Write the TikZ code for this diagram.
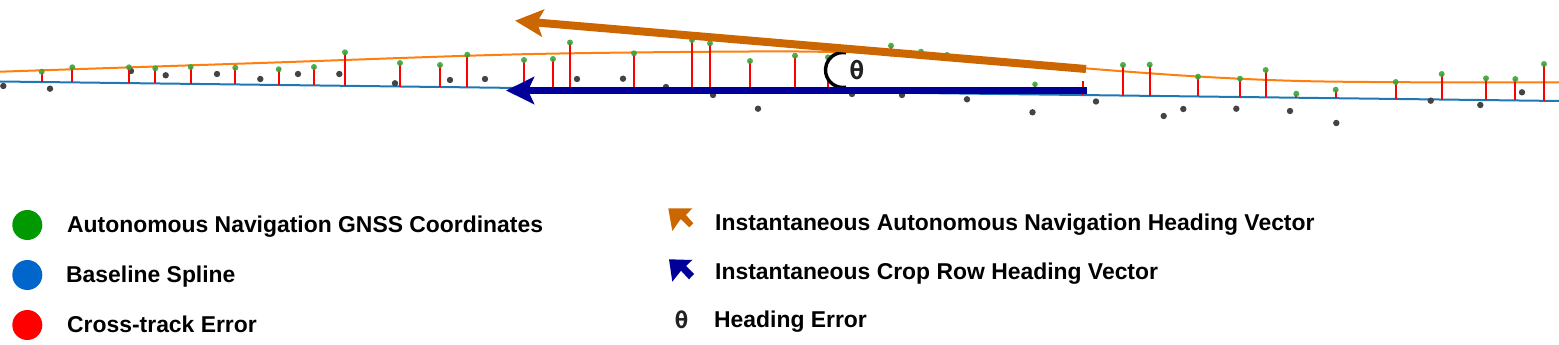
\documentclass[tikz,border=0pt]{standalone}
\usepackage{fontspec}
\setmainfont{Liberation Sans}
\newfontfamily\thetafont{DejaVu Sans Mono}
\usetikzlibrary{arrows.meta}
\definecolor{splorange}{HTML}{FF7F0E}
\definecolor{splblue}{HTML}{1F77B4}
\definecolor{gnssgreen}{HTML}{3BA53B}
\definecolor{ptgray}{HTML}{444444}
\definecolor{headorange}{HTML}{CC6600}
\definecolor{headblue}{HTML}{000099}
\definecolor{leggreen}{HTML}{009900}
\definecolor{legblue}{HTML}{0066CC}
\definecolor{cterred}{HTML}{FF0000}
\definecolor{thetagray}{HTML}{222222}
\begin{document}
\begin{tikzpicture}[x=1pt,y=-1pt,
  baseln/.style={splblue,line width=2},
  gnssln/.style={splorange,line width=2},
  ctel/.style={cterred,line width=2},
  gdot/.style={gnssgreen,opacity=0.9},
  graydot/.style={ptgray},
  headvec/.style={line width=8,-{Stealth[length=28pt,width=27pt,inset=6pt]}},
  anglearc/.style={black,line width=3.4},
  legtext/.style={anchor=base west,inner sep=0pt,font=\fontsize{22.9}{27}\selectfont\bfseries},
  thetatext/.style={inner sep=0pt,text=thetagray,font=\thetafont\bfseries\fontsize{25}{28}\selectfont},
  legdot/.style={circle,inner sep=0pt,minimum size=30pt}
]
\useasboundingbox (0,0) rectangle (1559,345);
% baseline spline
\draw[baseln] (0,81.5) -- (1559,101);
% autonomous navigation spline
\draw[gnssln] plot[smooth,tension=0.55] coordinates {(0,71.7) (260,63) (520,54.3) (750,51.5) (850,52.5) (960,57) (1085,68.3) (1198,76.5) (1300,81) (1420,82.3) (1559,82.3)};
% gray points
\foreach \px/\py in {3.3/86,50/88.7,131/71,165.7/75.3,217/74,260.3/79,298/74,339.3/74,395/83.3,450/80,485/79,577/79,623/78.7,666/87,713/95,758/108.7,852/94,902/95,967/99.3,1032.5/112.3,1096/101.5,1163.7/116,1183.3/109,1236.3/108.7,1290/111,1336.3/123,1430.7/100.7,1480.3/105,1522/92.3}
  \fill[graydot] (\px,\py) circle (3.2);
% cross-track error lines
\foreach \px/\py in {41.7/71.7,72.3/67.3,129/67.3,155.3/68.3,190.7/67,235.3/67.7,278.7/69.3,314/67,345/52.3,400/63,440/65,467.3/54.7,524/60,553/59,570/42.5,634/53.3,692/40,710/43.3,750/61,795/55.7,828/57.3,891/45.7,921/51.7,947/55,1123/65,1149.7/64.7,1198/76.7,1240/78.7,1265.7/70,1296.3/93.7,1335.7/89.7,1395.7/82,1441.7/74,1486/78.3,1515.3/79,1544/64}
  \draw[ctel] (\px,\py) -- (\px,{81.5+0.012508*\px});
\foreach \px in {991}
  \draw[ctel] (\px,88) -- (\px,{82+0.012508*\px});
% GNSS points
\foreach \px/\py in {41.7/71.7,72.3/67.3,129/67.3,155.3/68.3,190.7/67,235.3/67.7,278.7/69.3,314/67,345/52.3,400/63,440/65,467.3/54.7,524/60,553/59,570/42.5,634/53.3,692/40,710/43.3,750/61,795/55.7,828/57.3,891/45.7,921/51.7,947/55,1123/65,1149.7/64.7,1198/76.7,1240/78.7,1265.7/70,1296.3/93.7,1335.7/89.7,1395.7/82,1441.7/74,1486/78.3,1515.3/79,1544/64}
  \fill[gdot] (\px,\py) circle (3);
% heading error sector (white) and arc
\fill[white] (843,70) ++(80:17.5) arc (80:280:17.5) -- (1086,72) -- (1086,87) -- cycle;
\draw[anglearc] (843,70) ++(80:17.5) arc (80:280:17.5);
\node[thetatext] (theta) at (857,70) {θ};
% points near the vector ends
\draw[ctel] (1035,84.3) -- (1035,{81.5+0.012508*1035});
\fill[gdot] (1035,84.3) circle (2.8);
\draw[ctel] (1083,81) -- (1083,{81.5+0.012508*1083});
% heading vectors
\coordinate (oS) at (1086,69);
\coordinate (oT) at (515,20.7);
\coordinate (bS) at (1087,90.5);
\coordinate (bT) at (506,90.5);
\draw[headvec,headorange] (oS) -- (oT);
\draw[headvec,headblue,line width=7.6] (bS) -- (bT);
% legend left
\node[legdot,fill=leggreen] (lg) at (27.3,225) {};
\node[legdot,fill=legblue] (lb) at (27.3,275) {};
\node[legdot,fill=cterred] (lr) at (27.3,325) {};
\node[legtext] (tg) at (67,232.5) {Autonomous Navigation GNSS Coordinates};
\node[legtext] (tb) at (66,282.3) {Baseline Spline};
\node[legtext] (tr) at (67,332.3) {Cross-track Error};
% legend right
\fill[headorange] (668.3,208.3) -- (692.3,208.3) -- (686,215) -- (693.3,223.3) -- (689.3,227.3) -- (680.7,219) -- (672.3,231) -- cycle;
\fill[headblue] (669,259.3) -- (692.3,260) -- (686,266) -- (694,274) -- (689,279.3) -- (681,270.7) -- (672.3,281.7) -- cycle;
\node[legtext] (to) at (715,230) {Instantaneous Autonomous Navigation Heading Vector};
\node[legtext] (tc) at (715,279) {Instantaneous Crop Row Heading Vector};
\node[thetatext,font=\thetafont\bfseries\fontsize{23}{26}\selectfont] (lt) at (681.5,320) {θ};
\node[legtext] (te) at (714,327) {Heading Error};
\end{tikzpicture}
\end{document}
